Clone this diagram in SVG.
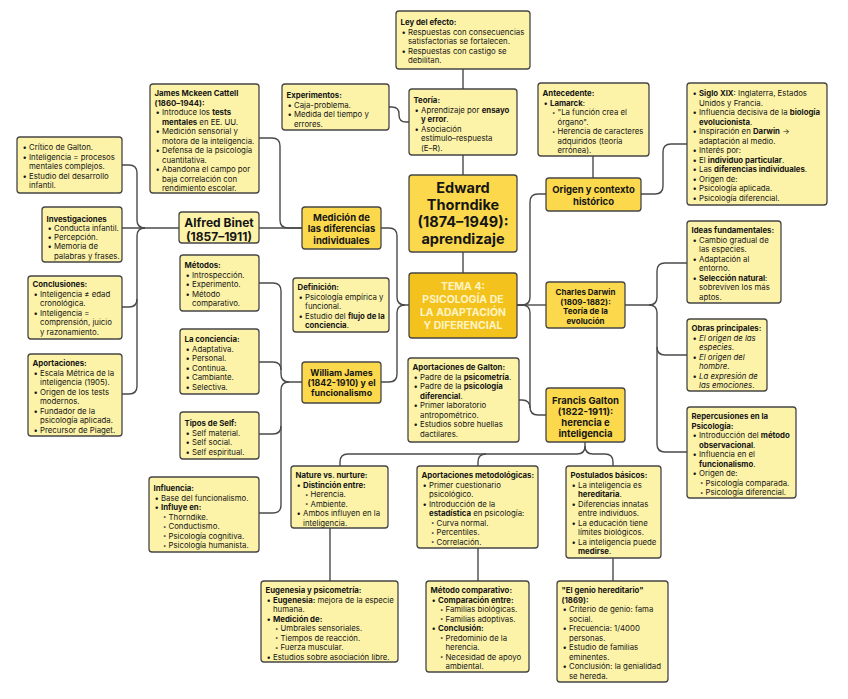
<svg xmlns="http://www.w3.org/2000/svg" width="848" height="699" viewBox="0 0 848 699">
<style>
.box{fill:#fdf3a8;stroke:#454545;stroke-width:1.3}
.main{fill:#fcd94c;stroke:#454545;stroke-width:1.3}
.tema{fill:#f4c21c;stroke:#454545;stroke-width:1.3}
#connectors path{fill:none;stroke:#4a4a4a;stroke-width:1.4}
text{font-family:Inter,"Liberation Sans",sans-serif;fill:#151515}
.t{font-size:7.8px}
.b{font-weight:700}
.i{font-style:italic}
.s{font-size:6px;fill:#333}
.h{font-weight:700;text-anchor:middle}
</style>
<rect width="848" height="699" fill="#ffffff"/>
<g id="connectors">
<path d="M463,69V89M463,155V175M463,252V273"/>
<path d="M389,107H392Q399,107 399,114V115Q399,122 406,122H409"/>
<path d="M593,156V178"/>
<path d="M641,194H655Q663,194 663,186V152Q663,144 671,144H687"/>
<path d="M517,305H522Q530,305 530,297V202Q530,194 538,194H546"/>
<path d="M517,305H546"/>
<path d="M517,305H522Q530,305 530,313V407Q530,415 538,415H546"/>
<path d="M519,400H522Q530,400 530,408"/>
<path d="M625,305H649Q657,305 657,297V271Q657,263 665,263H687"/>
<path d="M649,305Q657,305 657,313V347Q657,355 665,355H687"/>
<path d="M657,347V444Q657,452 665,452H687"/>
<path d="M585,442V446Q585,454 577,454H348Q340,454 340,462V466"/>
<path d="M478,466V462Q478,454 486,454"/>
<path d="M585,446Q585,454 593,454H605Q613,454 613,462V466"/>
<path d="M330,528V581M478,548V581M613,558V581"/>
<path d="M409,305H405Q397,305 397,297V236Q397,228 389,228H381"/>
<path d="M405,305Q397,305 397,313V374Q397,382 389,382H381"/>
<path d="M259,228H302"/>
<path d="M259,138H272Q280,138 280,146V220Q280,228 288,228H302"/>
<path d="M179,228H122"/>
<path d="M122,165H129Q137,165 137,173V220Q137,228 145,228"/>
<path d="M122,307H129Q137,307 137,299V236Q137,228 145,228"/>
<path d="M122,394H129Q137,394 137,386V299"/>
<path d="M259,283H273Q281,283 281,291V374Q281,382 289,382H302"/>
<path d="M259,362H273Q281,362 281,370"/>
<path d="M259,434H273Q281,434 281,426V390Q281,382 289,382"/>
<path d="M259,513H273Q281,513 281,505V426"/>
</g>

<g id="ley">
<rect class="box" x="396" y="11" width="134" height="58" rx="3"/>
<text class="t"><tspan class="b" x="400.5" y="25">Ley del efecto:</tspan><tspan x="401.5" y="34.5">•</tspan><tspan x="408" y="34.5">Respuestas con consecuencias</tspan><tspan x="408" y="44">satisfactorias se fortalecen.</tspan><tspan x="401.5" y="53.5">•</tspan><tspan x="408" y="53.5">Respuestas con castigo se</tspan><tspan x="408" y="63">debilitan.</tspan></text>
</g>

<g id="experimentos">
<rect class="box" x="282" y="84" width="107" height="46" rx="3"/>
<text class="t"><tspan class="b" x="286.5" y="98">Experimentos:</tspan><tspan x="287.5" y="107.5">•</tspan><tspan x="294" y="107.5">Caja-problema.</tspan><tspan x="287.5" y="117">•</tspan><tspan x="294" y="117">Medida del tiempo y</tspan><tspan x="294" y="126.5">errores.</tspan></text>
</g>

<g id="teoria">
<rect class="box" x="409" y="89" width="108" height="66" rx="3"/>
<text class="t"><tspan class="b" x="413.5" y="103">Teoría:</tspan><tspan x="414.5" y="112.5">•</tspan><tspan x="421" y="112.5">Aprendizaje por </tspan><tspan class="b">ensayo</tspan><tspan class="b" x="421" y="122">y error</tspan><tspan>.</tspan><tspan x="414.5" y="131.5">•</tspan><tspan x="421" y="131.5">Asociación</tspan><tspan x="421" y="141">estímulo–respuesta</tspan><tspan x="421" y="150.5">(E–R).</tspan></text>
</g>

<g id="thorndike">
<rect class="main" x="409" y="175" width="108" height="77" rx="3"/>
<text class="h" font-size="14.5"><tspan x="463" y="193">Edward</tspan><tspan x="463" y="210">Thorndike</tspan><tspan x="463" y="227">(1874–1949):</tspan><tspan x="463" y="244">aprendizaje</tspan></text>
</g>

<g id="tema">
<rect class="tema" x="409" y="273" width="108" height="65" rx="3"/>
<text class="h" font-size="10.5" style="fill:#fff4c4"><tspan x="463" y="290">TEMA 4:</tspan><tspan x="463" y="303">PSICOLOGÍA DE</tspan><tspan x="463" y="316">LA ADAPTACIÓN</tspan><tspan x="463" y="329">Y DIFERENCIAL</tspan></text>
</g>

<g id="antecedente">
<rect class="box" x="538" y="83" width="111" height="73" rx="3"/>
<text class="t"><tspan class="b" x="542.5" y="96">Antecedente:</tspan><tspan x="543.5" y="105.5">•</tspan><tspan class="b" x="550" y="105.5">Lamarck</tspan><tspan>:</tspan><tspan class="s" x="552" y="114.5">•</tspan><tspan x="557.5" y="115">"La función crea el</tspan><tspan x="557.5" y="124.5">órgano".</tspan><tspan class="s" x="552" y="133.5">•</tspan><tspan x="557.5" y="134">Herencia de caracteres</tspan><tspan x="557.5" y="143.5">adquiridos (teoría</tspan><tspan x="557.5" y="153">errónea).</tspan></text>
</g>

<g id="origen">
<rect class="main" x="546" y="178" width="95" height="33" rx="3"/>
<text class="h" font-size="9.5"><tspan x="593.5" y="192.5">Origen y contexto</tspan><tspan x="593.5" y="204.5">histórico</tspan></text>
</g>

<g id="siglo">
<rect class="box" x="687" y="83" width="140" height="122" rx="3"/>
<text class="t"><tspan x="692.5" y="96">•</tspan><tspan class="b" x="699" y="96">Siglo XIX</tspan><tspan>: Inglaterra, Estados</tspan><tspan x="699" y="105.5">Unidos y Francia.</tspan><tspan x="692.5" y="115">•</tspan><tspan x="699" y="115">Influencia decisiva de la </tspan><tspan class="b">biología</tspan><tspan class="b" x="699" y="124.5">evolucionista</tspan><tspan>.</tspan><tspan x="692.5" y="134">•</tspan><tspan x="699" y="134">Inspiración en </tspan><tspan class="b">Darwin</tspan><tspan> →</tspan><tspan x="699" y="143.5">adaptación al medio.</tspan><tspan x="692.5" y="153">•</tspan><tspan x="699" y="153">Interés por:</tspan><tspan x="692.5" y="162.5">•</tspan><tspan x="699" y="162.5">El </tspan><tspan class="b">individuo particular</tspan><tspan>.</tspan><tspan x="692.5" y="172">•</tspan><tspan x="699" y="172">Las </tspan><tspan class="b">diferencias individuales</tspan><tspan>.</tspan><tspan x="692.5" y="181.5">•</tspan><tspan x="699" y="181.5">Origen de:</tspan><tspan x="692.5" y="191">•</tspan><tspan x="699" y="191">Psicología aplicada.</tspan><tspan x="692.5" y="200.5">•</tspan><tspan x="699" y="200.5">Psicología diferencial.</tspan></text>
</g>

<g id="cattell">
<rect class="box" x="150" y="84" width="109" height="109" rx="3"/>
<text class="t"><tspan class="b" x="154.5" y="96">James Mckeen Cattell</tspan><tspan class="b" x="154.5" y="105.5">(1860–1944):</tspan><tspan x="155.5" y="115">•</tspan><tspan x="162" y="115">Introduce los </tspan><tspan class="b">tests</tspan><tspan class="b" x="162" y="124.5">mentales</tspan><tspan> en EE. UU.</tspan><tspan x="155.5" y="134">•</tspan><tspan x="162" y="134">Medición sensorial y</tspan><tspan x="162" y="143.5">motora de la inteligencia.</tspan><tspan x="155.5" y="153">•</tspan><tspan x="162" y="153">Defensa de la psicología</tspan><tspan x="162" y="162.5">cuantitativa.</tspan><tspan x="155.5" y="172">•</tspan><tspan x="162" y="172">Abandona el campo por</tspan><tspan x="162" y="181.5">baja correlación con</tspan><tspan x="162" y="191">rendimiento escolar.</tspan></text>
</g>

<g id="critico">
<rect class="box" x="17" y="137" width="105" height="56" rx="3"/>
<text class="t"><tspan x="22.5" y="150">•</tspan><tspan x="29" y="150">Crítico de Galton.</tspan><tspan x="22.5" y="159.5">•</tspan><tspan x="29" y="159.5">Inteligencia = procesos</tspan><tspan x="29" y="169">mentales complejos.</tspan><tspan x="22.5" y="178.5">•</tspan><tspan x="29" y="178.5">Estudio del desarrollo</tspan><tspan x="29" y="188">infantil.</tspan></text>
</g>

<g id="binet">
<rect class="box" x="179" y="212" width="80" height="31" rx="3"/>
<text class="h" font-size="12"><tspan x="219" y="226.5">Alfred Binet</tspan><tspan x="219" y="240.5">(1857–1911)</tspan></text>
</g>

<g id="medicion">
<rect class="main" x="302" y="207" width="79" height="42" rx="3"/>
<text class="h" font-size="9.5"><tspan x="341.5" y="220.5">Medición de</tspan><tspan x="341.5" y="232">las diferencias</tspan><tspan x="341.5" y="243.5">individuales</tspan></text>
</g>

<g id="investigaciones">
<rect class="box" x="42" y="207" width="80" height="55" rx="3"/>
<text class="t"><tspan class="b" x="46.5" y="221.5">Investigaciones</tspan><tspan x="47.5" y="230.8">•</tspan><tspan x="54" y="230.8">Conducta infantil.</tspan><tspan x="47.5" y="240.1">•</tspan><tspan x="54" y="240.1">Percepción.</tspan><tspan x="47.5" y="249.4">•</tspan><tspan x="54" y="249.4">Memoria de</tspan><tspan x="54" y="258.7">palabras y frases.</tspan></text>
</g>

<g id="conclusiones">
<rect class="box" x="28" y="276" width="94" height="63" rx="3"/>
<text class="t"><tspan class="b" x="32.5" y="287">Conclusiones:</tspan><tspan x="33.5" y="296.5">•</tspan><tspan x="40" y="296.5">Inteligencia ≠ edad</tspan><tspan x="40" y="306">cronológica.</tspan><tspan x="33.5" y="315.5">•</tspan><tspan x="40" y="315.5">Inteligencia =</tspan><tspan x="40" y="325">comprensión, juicio</tspan><tspan x="40" y="334.5">y razonamiento.</tspan></text>
</g>

<g id="aportaciones">
<rect class="box" x="28" y="354" width="94" height="82" rx="3"/>
<text class="t"><tspan class="b" x="32.5" y="366">Aportaciones:</tspan><tspan x="33.5" y="375.5">•</tspan><tspan x="40" y="375.5">Escala Métrica de la</tspan><tspan x="40" y="385">inteligencia (1905).</tspan><tspan x="33.5" y="394.5">•</tspan><tspan x="40" y="394.5">Origen de los tests</tspan><tspan x="40" y="404">modernos.</tspan><tspan x="33.5" y="413.5">•</tspan><tspan x="40" y="413.5">Fundador de la</tspan><tspan x="40" y="423">psicología aplicada.</tspan><tspan x="33.5" y="432.5">•</tspan><tspan x="40" y="432.5">Precursor de Piaget.</tspan></text>
</g>

<g id="metodos">
<rect class="box" x="180" y="255" width="79" height="56" rx="3"/>
<text class="t"><tspan class="b" x="184.5" y="268">Métodos:</tspan><tspan x="185.5" y="277.5">•</tspan><tspan x="192" y="277.5">Introspección.</tspan><tspan x="185.5" y="287">•</tspan><tspan x="192" y="287">Experimento.</tspan><tspan x="185.5" y="296.5">•</tspan><tspan x="192" y="296.5">Método</tspan><tspan x="192" y="306">comparativo.</tspan></text>
</g>

<g id="conciencia">
<rect class="box" x="180" y="329" width="79" height="65" rx="3"/>
<text class="t"><tspan class="b" x="184.5" y="342">La conciencia:</tspan><tspan x="185.5" y="351.5">•</tspan><tspan x="192" y="351.5">Adaptativa.</tspan><tspan x="185.5" y="361">•</tspan><tspan x="192" y="361">Personal.</tspan><tspan x="185.5" y="370.5">•</tspan><tspan x="192" y="370.5">Continua.</tspan><tspan x="185.5" y="380">•</tspan><tspan x="192" y="380">Cambiante.</tspan><tspan x="185.5" y="389.5">•</tspan><tspan x="192" y="389.5">Selectiva.</tspan></text>
</g>

<g id="self">
<rect class="box" x="180" y="412" width="79" height="47" rx="3"/>
<text class="t"><tspan class="b" x="184.5" y="426">Tipos de Self:</tspan><tspan x="185.5" y="435.5">•</tspan><tspan x="192" y="435.5">Self material.</tspan><tspan x="185.5" y="445">•</tspan><tspan x="192" y="445">Self social.</tspan><tspan x="185.5" y="454.5">•</tspan><tspan x="192" y="454.5">Self espiritual.</tspan></text>
</g>

<g id="influencia">
<rect class="box" x="149" y="477" width="110" height="75" rx="3"/>
<text class="t"><tspan class="b" x="153.5" y="491">Influencia:</tspan><tspan x="154.5" y="500.5">•</tspan><tspan x="161" y="500.5">Base del funcionalismo.</tspan><tspan x="154.5" y="510">•</tspan><tspan class="b" x="161" y="510">Influye en:</tspan><tspan class="s" x="163" y="519">•</tspan><tspan x="168.5" y="519.5">Thorndike.</tspan><tspan class="s" x="163" y="528.5">•</tspan><tspan x="168.5" y="529">Conductismo.</tspan><tspan class="s" x="163" y="538">•</tspan><tspan x="168.5" y="538.5">Psicología cognitiva.</tspan><tspan class="s" x="163" y="547.5">•</tspan><tspan x="168.5" y="548">Psicología humanista.</tspan></text>
</g>

<g id="definicion">
<rect class="box" x="293" y="278" width="96" height="54" rx="3"/>
<text class="t"><tspan class="b" x="297.5" y="290">Definición:</tspan><tspan x="298.5" y="299.5">•</tspan><tspan x="305" y="299.5">Psicología empírica y</tspan><tspan x="305" y="309">funcional.</tspan><tspan x="298.5" y="318.5">•</tspan><tspan x="305" y="318.5">Estudio del </tspan><tspan class="b">flujo de la</tspan><tspan class="b" x="305" y="328">conciencia</tspan><tspan>.</tspan></text>
</g>

<g id="james">
<rect class="main" x="302" y="362" width="79" height="41" rx="3"/>
<text class="h" font-size="8.8"><tspan x="341.5" y="375.5">William James</tspan><tspan x="341.5" y="385.5">(1842-1910) y el</tspan><tspan x="341.5" y="395.5">funcionalismo</tspan></text>
</g>

<g id="aport-galton">
<rect class="box" x="408" y="358" width="111" height="84" rx="3"/>
<text class="t"><tspan class="b" x="412.5" y="370">Aportaciones de Galton:</tspan><tspan x="413.5" y="379.5">•</tspan><tspan x="420" y="379.5">Padre de la </tspan><tspan class="b">psicometría</tspan><tspan>.</tspan><tspan x="413.5" y="389">•</tspan><tspan x="420" y="389">Padre de la </tspan><tspan class="b">psicología</tspan><tspan class="b" x="420" y="398.5">diferencial</tspan><tspan>.</tspan><tspan x="413.5" y="408">•</tspan><tspan x="420" y="408">Primer laboratorio</tspan><tspan x="420" y="417.5">antropométrico.</tspan><tspan x="413.5" y="427">•</tspan><tspan x="420" y="427">Estudios sobre huellas</tspan><tspan x="420" y="436.5">dactilares.</tspan></text>
</g>

<g id="darwin">
<rect class="main" x="546" y="282" width="79" height="46" rx="3"/>
<text class="h" font-size="8"><tspan x="585.5" y="295">Charles Darwin</tspan><tspan x="585.5" y="304.5">(1809-1882):</tspan><tspan x="585.5" y="314">Teoría de la</tspan><tspan x="585.5" y="323.5">evolución</tspan></text>
</g>

<g id="galton">
<rect class="main" x="546" y="388" width="79" height="54" rx="3"/>
<text class="h" font-size="9.5"><tspan x="585.5" y="403.5">Francis Galton</tspan><tspan x="585.5" y="414.6">(1822-1911):</tspan><tspan x="585.5" y="425.7">herencia e</tspan><tspan x="585.5" y="436.8">inteligencia</tspan></text>
</g>

<g id="ideas">
<rect class="box" x="687" y="221" width="94" height="82" rx="3"/>
<text class="t"><tspan class="b" x="691.5" y="233">Ideas fundamentales:</tspan><tspan x="692.5" y="242.5">•</tspan><tspan x="699" y="242.5">Cambio gradual de</tspan><tspan x="699" y="252">las especies.</tspan><tspan x="692.5" y="261.5">•</tspan><tspan x="699" y="261.5">Adaptación al</tspan><tspan x="699" y="271">entorno.</tspan><tspan x="692.5" y="280.5">•</tspan><tspan class="b" x="699" y="280.5">Selección natural</tspan><tspan>:</tspan><tspan x="699" y="290">sobreviven los más</tspan><tspan x="699" y="299.5">aptos.</tspan></text>
</g>

<g id="obras">
<rect class="box" x="687" y="319" width="80" height="72" rx="3"/>
<text class="t"><tspan class="b" x="691.5" y="331">Obras principales:</tspan><tspan x="692.5" y="340.5">•</tspan><tspan class="i" x="699" y="340.5">El origen de las</tspan><tspan class="i" x="699" y="350">especies</tspan><tspan>.</tspan><tspan x="692.5" y="359.5">•</tspan><tspan class="i" x="699" y="359.5">El origen del</tspan><tspan class="i" x="699" y="369">hombre</tspan><tspan>.</tspan><tspan x="692.5" y="378.5">•</tspan><tspan class="i" x="699" y="378.5">La expresión de</tspan><tspan class="i" x="699" y="388">las emociones</tspan><tspan>.</tspan></text>
</g>

<g id="repercusiones">
<rect class="box" x="687" y="407" width="109" height="91" rx="3"/>
<text class="t"><tspan class="b" x="691.5" y="419">Repercusiones en la</tspan><tspan class="b" x="691.5" y="428.5">Psicología:</tspan><tspan x="692.5" y="438">•</tspan><tspan x="699" y="438">Introducción del </tspan><tspan class="b">método</tspan><tspan class="b" x="699" y="447.5">observacional</tspan><tspan>.</tspan><tspan x="692.5" y="457">•</tspan><tspan x="699" y="457">Influencia en el</tspan><tspan class="b" x="699" y="466.5">funcionalismo</tspan><tspan>.</tspan><tspan x="692.5" y="476">•</tspan><tspan x="699" y="476">Origen de:</tspan><tspan class="s" x="700" y="485">•</tspan><tspan x="705.5" y="485.5">Psicología comparada.</tspan><tspan class="s" x="700" y="494.5">•</tspan><tspan x="705.5" y="495">Psicología diferencial.</tspan></text>
</g>

<g id="nature">
<rect class="box" x="291" y="466" width="97" height="62" rx="3"/>
<text class="t"><tspan class="b" x="295.5" y="478">Nature vs. nurture:</tspan><tspan x="296.5" y="487.5">•</tspan><tspan class="b" x="303" y="487.5">Distinción entre:</tspan><tspan class="s" x="305" y="496.5">•</tspan><tspan x="310.5" y="497">Herencia.</tspan><tspan class="s" x="305" y="506">•</tspan><tspan x="310.5" y="506.5">Ambiente.</tspan><tspan x="296.5" y="516">•</tspan><tspan x="303" y="516">Ambos influyen en la</tspan><tspan x="303" y="525.5">inteligencia.</tspan></text>
</g>

<g id="aport-met">
<rect class="box" x="417" y="466" width="121" height="82" rx="3"/>
<text class="t"><tspan class="b" x="421.5" y="478">Aportaciones metodológicas:</tspan><tspan x="422.5" y="487.5">•</tspan><tspan x="429" y="487.5">Primer cuestionario</tspan><tspan x="429" y="497">psicológico.</tspan><tspan x="422.5" y="506.5">•</tspan><tspan x="429" y="506.5">Introducción de la</tspan><tspan class="b" x="429" y="516">estadística</tspan><tspan> en psicología:</tspan><tspan class="s" x="431" y="525">•</tspan><tspan x="436.5" y="525.5">Curva normal.</tspan><tspan class="s" x="431" y="534.5">•</tspan><tspan x="436.5" y="535">Percentiles.</tspan><tspan class="s" x="431" y="544">•</tspan><tspan x="436.5" y="544.5">Correlación.</tspan></text>
</g>

<g id="postulados">
<rect class="box" x="566" y="466" width="95" height="92" rx="3"/>
<text class="t"><tspan class="b" x="570.5" y="478">Postulados básicos:</tspan><tspan x="571.5" y="487.5">•</tspan><tspan x="578" y="487.5">La inteligencia es</tspan><tspan class="b" x="578" y="497">hereditaria</tspan><tspan>.</tspan><tspan x="571.5" y="506.5">•</tspan><tspan x="578" y="506.5">Diferencias innatas</tspan><tspan x="578" y="516">entre individuos.</tspan><tspan x="571.5" y="525.5">•</tspan><tspan x="578" y="525.5">La educación tiene</tspan><tspan x="578" y="535">límites biológicos.</tspan><tspan x="571.5" y="544.5">•</tspan><tspan x="578" y="544.5">La inteligencia puede</tspan><tspan class="b" x="578" y="554">medirse</tspan><tspan>.</tspan></text>
</g>

<g id="eugenesia">
<rect class="box" x="261" y="581" width="137" height="81" rx="3"/>
<text class="t"><tspan class="b" x="265.5" y="593">Eugenesia y psicometría:</tspan><tspan x="266.5" y="602.5">•</tspan><tspan class="b" x="273" y="602.5">Eugenesia:</tspan><tspan> mejora de la especie</tspan><tspan x="273" y="612">humana.</tspan><tspan x="266.5" y="621.5">•</tspan><tspan class="b" x="273" y="621.5">Medición de:</tspan><tspan class="s" x="275" y="630.5">•</tspan><tspan x="280.5" y="631">Umbrales sensoriales.</tspan><tspan class="s" x="275" y="640">•</tspan><tspan x="280.5" y="640.5">Tiempos de reacción.</tspan><tspan class="s" x="275" y="649.5">•</tspan><tspan x="280.5" y="650">Fuerza muscular.</tspan><tspan x="266.5" y="659.5">•</tspan><tspan x="273" y="659.5">Estudios sobre asociación libre.</tspan></text>
</g>

<g id="metodo-comp">
<rect class="box" x="426" y="581" width="103" height="91" rx="3"/>
<text class="t"><tspan class="b" x="430.5" y="593">Método comparativo:</tspan><tspan x="431.5" y="602.5">•</tspan><tspan class="b" x="438" y="602.5">Comparación entre:</tspan><tspan class="s" x="440" y="611.5">•</tspan><tspan x="445.5" y="612">Familias biológicas.</tspan><tspan class="s" x="440" y="621">•</tspan><tspan x="445.5" y="621.5">Familias adoptivas.</tspan><tspan x="431.5" y="631">•</tspan><tspan class="b" x="438" y="631">Conclusión:</tspan><tspan class="s" x="440" y="640">•</tspan><tspan x="445.5" y="640.5">Predominio de la</tspan><tspan x="445.5" y="650">herencia.</tspan><tspan class="s" x="440" y="659">•</tspan><tspan x="445.5" y="659.5">Necesidad de apoyo</tspan><tspan x="445.5" y="669">ambiental.</tspan></text>
</g>

<g id="genio">
<rect class="box" x="557" y="581" width="111" height="101" rx="3"/>
<text class="t"><tspan class="b" x="561.5" y="593">"El genio hereditario"</tspan><tspan class="b" x="561.5" y="602.5">(1869):</tspan><tspan x="562.5" y="612">•</tspan><tspan x="569" y="612">Criterio de genio: fama</tspan><tspan x="569" y="621.5">social.</tspan><tspan x="562.5" y="631">•</tspan><tspan x="569" y="631">Frecuencia: 1/4000</tspan><tspan x="569" y="640.5">personas.</tspan><tspan x="562.5" y="650">•</tspan><tspan x="569" y="650">Estudio de familias</tspan><tspan x="569" y="659.5">eminentes.</tspan><tspan x="562.5" y="669">•</tspan><tspan x="569" y="669">Conclusión: la genialidad</tspan><tspan x="569" y="678.5">se hereda.</tspan></text>
</g>
</svg>
